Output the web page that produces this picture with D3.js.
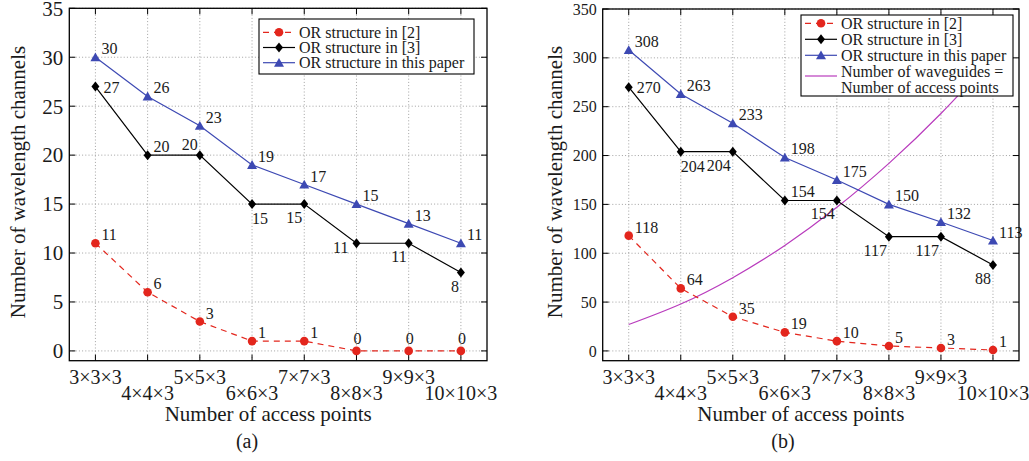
<!DOCTYPE html>
<html>
<head>
<meta charset="utf-8">
<script src="https://cdn.jsdelivr.net/npm/d3@7"></script>
<style>
  body { margin: 0; background: #fff; }
  svg text { font-family: "Liberation Serif", "Times New Roman", serif; fill: #1a1a1a; }
</style>
</head>
<body>
<svg id="chart" width="1029" height="461"></svg>
<script>
// categories (x axis)
var categories = ["3×3×3", "4×4×3", "5×5×3", "6×6×3", "7×7×3", "8×8×3", "9×9×3", "10×10×3"];

// panel (a)
var ref2A = [11, 6, 3, 1, 1, 0, 0, 0];
var ref3A = [27, 20, 20, 15, 15, 11, 11, 8];
var paperA = [30, 26, 23, 19, 17, 15, 13, 11];
var yTicksA = [0, 5, 10, 15, 20, 25, 30, 35];

// panel (b)
var ref2B = [118, 64, 35, 19, 10, 5, 3, 1];
var ref3B = [270, 204, 204, 154, 154, 117, 117, 88];
var paperB = [308, 263, 233, 198, 175, 150, 132, 113];
var waveguidesB = [27, 48, 75, 108, 147, 192, 243, 300];
var yTicksB = [0, 50, 100, 150, 200, 250, 300, 350];

// where each value label sits relative to its marker
var ref2PosA = ["ur", "ur", "ur", "ur", "ur", "u", "u", "u"];
var ref3PosA = ["r", "ur", "ul", "dr", "dl", "l", "dl", "dl"];
var ref3PosB = ["r", "dr", "dl", "ur", "dl", "dl", "dl", "dl"];

var RED = "#e3261d", BLUE = "#3d49b3", MAG = "#b93cbd", BLK = "#000";

var svg = d3.select("#chart");

var labelOffsets = {
  ur: { dx: 6, dy: -3, anchor: "start" },
  r:  { dx: 8, dy: 6, anchor: "start" },
  ul: { dx: -2, dy: -5, anchor: "end" },
  dr: { dx: 0, dy: 20, anchor: "start" },
  dl: { dx: -2, dy: 19, anchor: "end" },
  l:  { dx: -8, dy: 10, anchor: "end" },
  u:  { dx: 1, dy: -7, anchor: "middle" }
};

var diamond = "M0,-5L4,0L0,5L-4,0Z";
var triangle = "M0,-4.8L5,4L-5,4Z";

function drawMarker(g, kind, x, y) {
  if (kind == "circle") {
    g.append("circle").attr("cx", x).attr("cy", y).attr("r", 4.3).attr("fill", RED);
  } else if (kind == "diamond") {
    g.append("path").attr("d", diamond).attr("transform", "translate(" + x + "," + y + ")").attr("fill", BLK);
  } else if (kind == "triangle") {
    g.append("path").attr("d", triangle).attr("transform", "translate(" + x + "," + y + ")").attr("fill", BLUE);
  }
}

function panel(p) {
  var g = svg.append("g");
  var x = d3.scalePoint().domain(categories).range([p.left, p.right]).padding(0.5);
  var y = d3.scaleLinear().domain(p.yDomain).range([p.bottom, p.top]);

  // dotted grid
  g.selectAll(".vg").data(categories).enter().append("line")
    .attr("x1", function(d) { return x(d); }).attr("x2", function(d) { return x(d); })
    .attr("y1", p.top).attr("y2", p.bottom)
    .attr("stroke", "#8a8a8a").attr("stroke-width", 0.8).attr("stroke-dasharray", "1,2.2");
  g.selectAll(".hg").data(p.yTicks).enter().append("line")
    .attr("x1", p.left).attr("x2", p.right)
    .attr("y1", function(d) { return y(d); }).attr("y2", function(d) { return y(d); })
    .attr("stroke", "#8a8a8a").attr("stroke-width", 0.8).attr("stroke-dasharray", "1,2.2");

  // inner ticks on all four sides
  categories.forEach(function(c) {
    g.append("line").attr("x1", x(c)).attr("x2", x(c)).attr("y1", p.bottom).attr("y2", p.bottom - 6).attr("stroke", "#000");
    g.append("line").attr("x1", x(c)).attr("x2", x(c)).attr("y1", p.top).attr("y2", p.top + 6).attr("stroke", "#000");
  });
  p.yTicks.forEach(function(t) {
    g.append("line").attr("x1", p.left).attr("x2", p.left + 6).attr("y1", y(t)).attr("y2", y(t)).attr("stroke", "#000");
    g.append("line").attr("x1", p.right).attr("x2", p.right - 6).attr("y1", y(t)).attr("y2", y(t)).attr("stroke", "#000");
  });

  // curve without markers (clipped to the axes)
  if (p.curve) {
    var clipId = "clip" + p.name;
    svg.append("clipPath").attr("id", clipId).append("rect")
      .attr("x", p.left).attr("y", p.top).attr("width", p.right - p.left).attr("height", p.bottom - p.top);
    g.append("path").datum(p.curve)
      .attr("clip-path", "url(#" + clipId + ")")
      .attr("d", d3.line().x(function(d, i) { return x(categories[i]); }).y(function(d) { return y(d); }).curve(d3.curveNatural))
      .attr("fill", "none").attr("stroke", MAG).attr("stroke-width", 1.2);
  }

  p.series.forEach(function(s) {
    var line = d3.line().x(function(d, i) { return x(categories[i]); }).y(function(d) { return y(d); });
    g.append("path").datum(s.values).attr("d", line)
      .attr("fill", "none").attr("stroke", s.color).attr("stroke-width", 1.2)
      .attr("stroke-dasharray", s.dash || null);
    s.values.forEach(function(v, i) {
      drawMarker(g, s.marker, x(categories[i]), y(v));
    });
    s.values.forEach(function(v, i) {
      var o = labelOffsets[s.pos ? s.pos[i] : "ur"];
      g.append("text")
        .attr("x", x(categories[i]) + o.dx).attr("y", y(v) + o.dy)
        .attr("text-anchor", o.anchor).attr("font-size", 16)
        .text(v);
    });
  });

  // box
  g.append("rect").attr("x", p.left).attr("y", p.top)
    .attr("width", p.right - p.left).attr("height", p.bottom - p.top)
    .attr("fill", "none").attr("stroke", "#000").attr("stroke-width", 1.3);

  // tick labels
  g.selectAll(".yl").data(p.yTicks).enter().append("text")
    .attr("x", p.left - 6).attr("y", function(d) { return y(d); })
    .attr("dy", "0.35em").attr("text-anchor", "end").attr("font-size", p.yFont)
    .text(function(d) { return d; });
  g.selectAll(".xl").data(categories).enter().append("text")
    .attr("x", function(d) { return x(d); })
    .attr("y", function(d, i) { return i % 2 == 0 ? 384 : 400; })
    .attr("text-anchor", "middle").attr("font-size", 20)
    .text(function(d) { return d; });

  // axis titles and caption
  g.append("text").attr("x", (p.left + p.right) / 2 - 10).attr("y", 421)
    .attr("text-anchor", "middle").attr("font-size", 21).text("Number of access points");
  g.append("text").attr("transform", "translate(" + p.yLabelX + ",182) rotate(-90)")
    .attr("text-anchor", "middle").attr("font-size", 21).text("Number of wavelength channels");
  g.append("text").attr("x", p.captionX).attr("y", 448)
    .attr("text-anchor", "middle").attr("font-size", 20).text(p.caption);

  // legend
  var L = p.legend;
  g.append("rect").attr("x", L.x).attr("y", L.y).attr("width", L.w).attr("height", L.h)
    .attr("fill", "#fff").attr("stroke", "#000").attr("stroke-width", 1.1);
  L.rows.forEach(function(r, i) {
    var cy = L.y + L.first + i * L.step;
    if (r.color) {
      var ly = r.lineY != null ? L.y + r.lineY : cy;
      g.append("line").attr("x1", L.x + 4).attr("x2", L.x + 36).attr("y1", ly).attr("y2", ly)
        .attr("stroke", r.color).attr("stroke-width", 1.2).attr("stroke-dasharray", r.dash || null);
      if (r.marker) drawMarker(g, r.marker, L.x + 20, ly);
    }
    g.append("text").attr("x", L.x + 40).attr("y", cy).attr("dy", "0.35em")
      .attr("font-size", 16).text(r.text);
  });
}

panel({
  name: "A", left: 69.3, right: 487, top: 8.3, bottom: 360.7,
  yDomain: [-1, 35], yTicks: yTicksA, yFont: 21, yLabelX: 25,
  caption: "(a)", captionX: 247,
  series: [
    { values: ref2A, color: RED, marker: "circle", dash: "6,5", pos: ref2PosA },
    { values: ref3A, color: BLK, marker: "diamond", pos: ref3PosA },
    { values: paperA, color: BLUE, marker: "triangle" }
  ],
  legend: {
    x: 259, y: 19, w: 215, h: 55, first: 13.3, step: 15.2,
    rows: [
      { text: "OR structure in [2]", color: RED, marker: "circle", dash: "6,5" },
      { text: "OR structure in [3]", color: BLK, marker: "diamond" },
      { text: "OR structure in this paper", color: BLUE, marker: "triangle" }
    ]
  }
});

panel({
  name: "B", left: 602.7, right: 1019, top: 9, bottom: 360.7,
  yDomain: [-10, 350], yTicks: yTicksB, yFont: 16, yLabelX: 562,
  caption: "(b)", captionX: 783,
  curve: waveguidesB,
  series: [
    { values: ref2B, color: RED, marker: "circle", dash: "6,5" },
    { values: ref3B, color: BLK, marker: "diamond", pos: ref3PosB },
    { values: paperB, color: BLUE, marker: "triangle" }
  ],
  legend: {
    x: 801, y: 15, w: 212, h: 81, first: 8.3, step: 16,
    rows: [
      { text: "OR structure in [2]", color: RED, marker: "circle", dash: "6,5" },
      { text: "OR structure in [3]", color: BLK, marker: "diamond" },
      { text: "OR structure in this paper", color: BLUE, marker: "triangle" },
      { text: "Number of waveguides =", color: MAG, lineY: 61 },
      { text: "Number of access points" }
    ]
  }
});
</script>
</body>
</html>
